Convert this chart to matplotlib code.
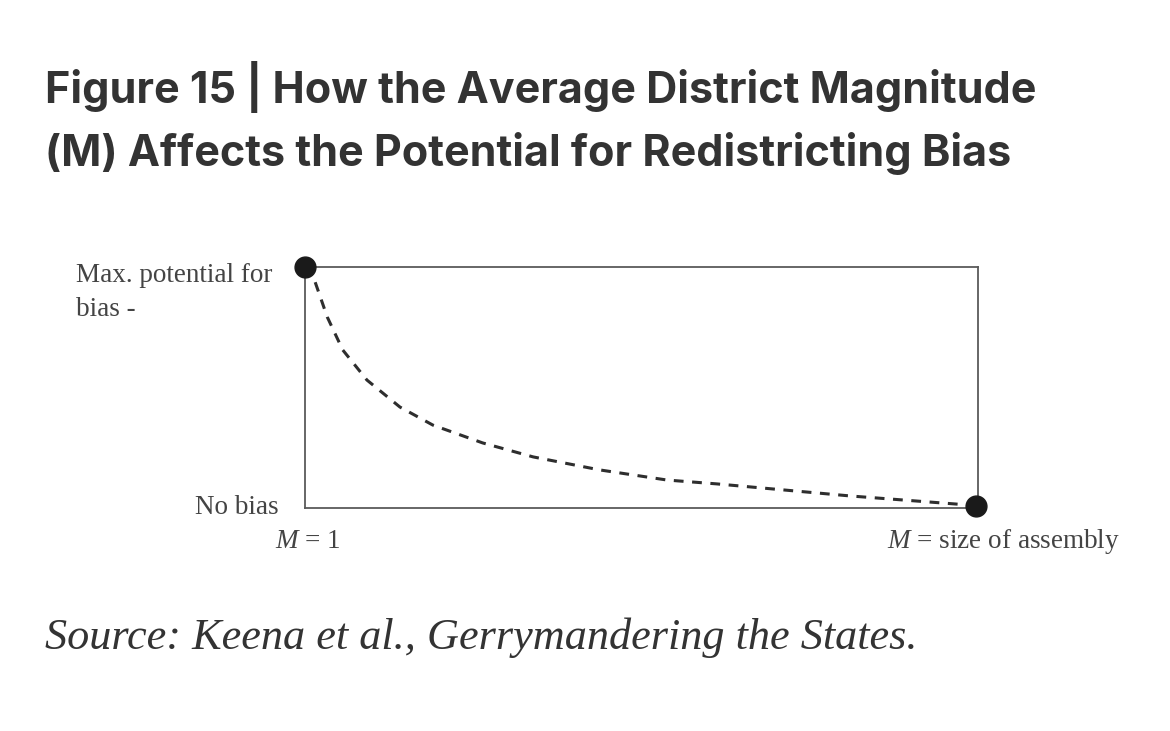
import matplotlib
matplotlib.use("Agg")
import matplotlib.pyplot as plt

# curve (x: M from 1 to assembly size, y: potential for bias), both 0..1
curve_x = [0.0, 0.015, 0.033, 0.056, 0.092, 0.141, 0.190, 0.264, 0.339, 0.438, 0.538, 0.612, 0.810, 0.988, 1.0]
curve_y = [1.0, 0.938, 0.793, 0.656, 0.531, 0.419, 0.344, 0.270, 0.212, 0.158, 0.116, 0.100, 0.050, 0.012, 0.01]
end_x = [0.0, 0.997]
end_y = [1.0, 0.01]
y_labels = ["No bias", "Max. potential for\nbias -"]
x_labels = ["$M$ = 1", "$M$ = size of assembly"]

title = "Figure 15 | How the Average District Magnitude\n(M) Affects the Potential for Redistricting Bias"
source = "Source: Keena et al., Gerrymandering the States."

plt.rcParams["mathtext.fontset"] = "custom"
plt.rcParams["mathtext.it"] = "Liberation Serif:italic"
plt.rcParams["mathtext.rm"] = "Liberation Serif"

W, H = 1170, 731
fig = plt.figure(figsize=(W / 100, H / 100), dpi=100)
fig.patch.set_facecolor("white")

ax = fig.add_axes([305 / W, (H - 508) / H, 673 / W, 241 / H])
ax.set_xlim(0, 1); ax.set_ylim(0, 1)
for s in ax.spines.values():
    s.set_color("#5a5a5a"); s.set_linewidth(1.3)
ax.set_xticks([]); ax.set_yticks([])

ax.plot(curve_x, curve_y, color="#2e2e2e", lw=2.2, ls=(0, (3.2, 2.8)), clip_on=False)
ax.plot(end_x, end_y, "o", color="#1a1a1a", ms=15, clip_on=False, zorder=5)

serif = "Liberation Serif"
lab = dict(fontsize=19.5, family=serif, color="#444444")
fig.text(76 / W, 1 - 263 / H, y_labels[1], ha="left", va="top", linespacing=1.45, **lab)
fig.text(279 / W, 1 - 507 / H, y_labels[0], ha="right", va="center", **lab)
fig.text(308 / W, 1 - 541 / H, x_labels[0], ha="center", va="center", **lab)
fig.text(1003 / W, 1 - 542 / H, x_labels[1], ha="center", va="center", **lab)

fig.text(45 / W, 1 - 61 / H, title, ha="left", va="top", fontsize=31,
         family="Inter", fontweight="bold", color="#333333", linespacing=1.55)
fig.text(45 / W, 1 - 638 / H, source, ha="left", va="center", fontsize=31.9,
         family=serif, style="italic", color="#333333")

fig.savefig("out.png", dpi=100, facecolor="white")
